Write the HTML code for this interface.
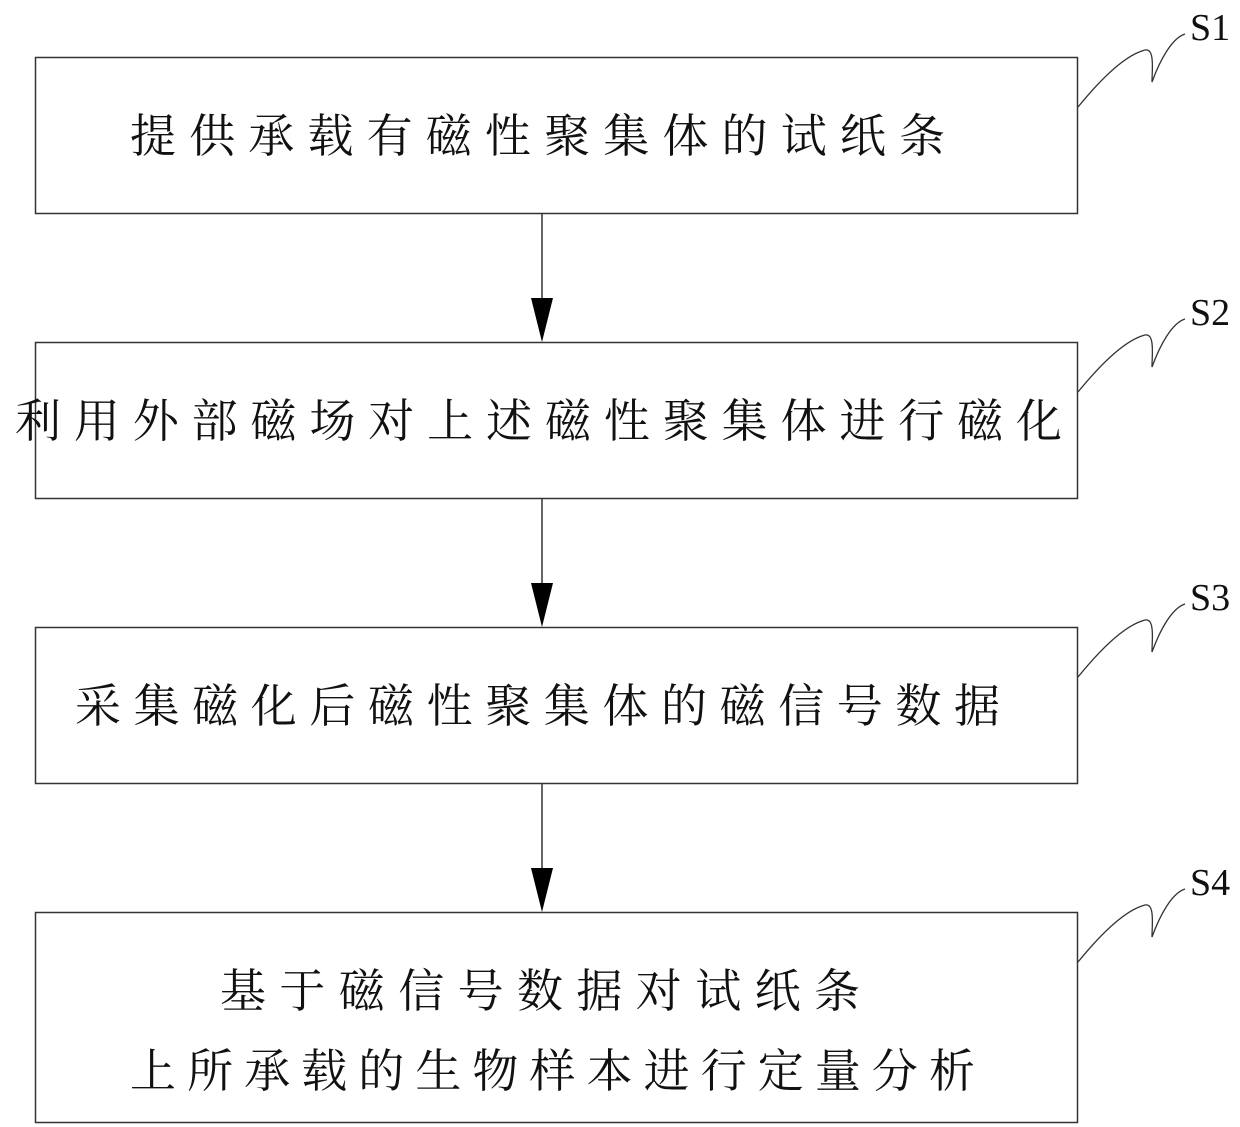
<!DOCTYPE html>
<html><head><meta charset="utf-8"><style>
html,body{margin:0;padding:0;background:#fff;}
svg{display:block}
text{font-family:"Liberation Serif","Noto Serif CJK SC",serif;fill:#111}
</style></head><body>
<svg width="1240" height="1127" viewBox="0 0 1240 1127" xmlns="http://www.w3.org/2000/svg">
<g fill="none" stroke="#333" stroke-width="1.5">
<rect x="35.5" y="57.5" width="1042" height="156"/>
<rect x="35.5" y="342.5" width="1042" height="156"/>
<rect x="35.5" y="627.5" width="1042" height="156"/>
<rect x="35.5" y="912.5" width="1042" height="210"/>
<line x1="542" y1="214" x2="542" y2="300"/>
<line x1="542" y1="499" x2="542" y2="585"/>
<line x1="542" y1="784" x2="542" y2="870"/>
</g>
<g fill="#000">
<polygon points="531,298 553,298 542,342"/>
<polygon points="531,583 553,583 542,627"/>
<polygon points="531,868 553,868 542,912"/>
</g>
<g fill="none" stroke="#333" stroke-width="1.3">
<path d="M1078,107 C1100,80 1125,55 1145,50 C1155,48 1152,70 1152,82 C1160,60 1172,38 1185,34"/>
<path d="M1078,392 C1100,365 1125,340 1145,335 C1155,333 1152,355 1152,367 C1160,345 1172,323 1185,319"/>
<path d="M1078,677 C1100,650 1125,625 1145,620 C1155,618 1152,640 1152,652 C1160,630 1172,608 1185,604"/>
<path d="M1078,962 C1100,935 1125,910 1145,905 C1155,903 1152,925 1152,937 C1160,915 1172,893 1185,889"/>
</g>
<g font-size="38">
<text x="1190" y="40">S1</text>
<text x="1190" y="325">S2</text>
<text x="1190" y="610">S3</text>
<text x="1190" y="895">S4</text>
</g>
<g font-size="46">
<text x="130" y="152" textLength="815" lengthAdjust="spacing">提供承载有磁性聚集体的试纸条</text>
<text x="15" y="437" textLength="1047" lengthAdjust="spacing">利用外部磁场对上述磁性聚集体进行磁化</text>
<text x="75" y="722" textLength="925" lengthAdjust="spacing">采集磁化后磁性聚集体的磁信号数据</text>
<text x="220" y="1007" textLength="640" lengthAdjust="spacing">基于磁信号数据对试纸条</text>
<text x="130" y="1087" textLength="845" lengthAdjust="spacing">上所承载的生物样本进行定量分析</text>
</g>
</svg>
</body></html>
